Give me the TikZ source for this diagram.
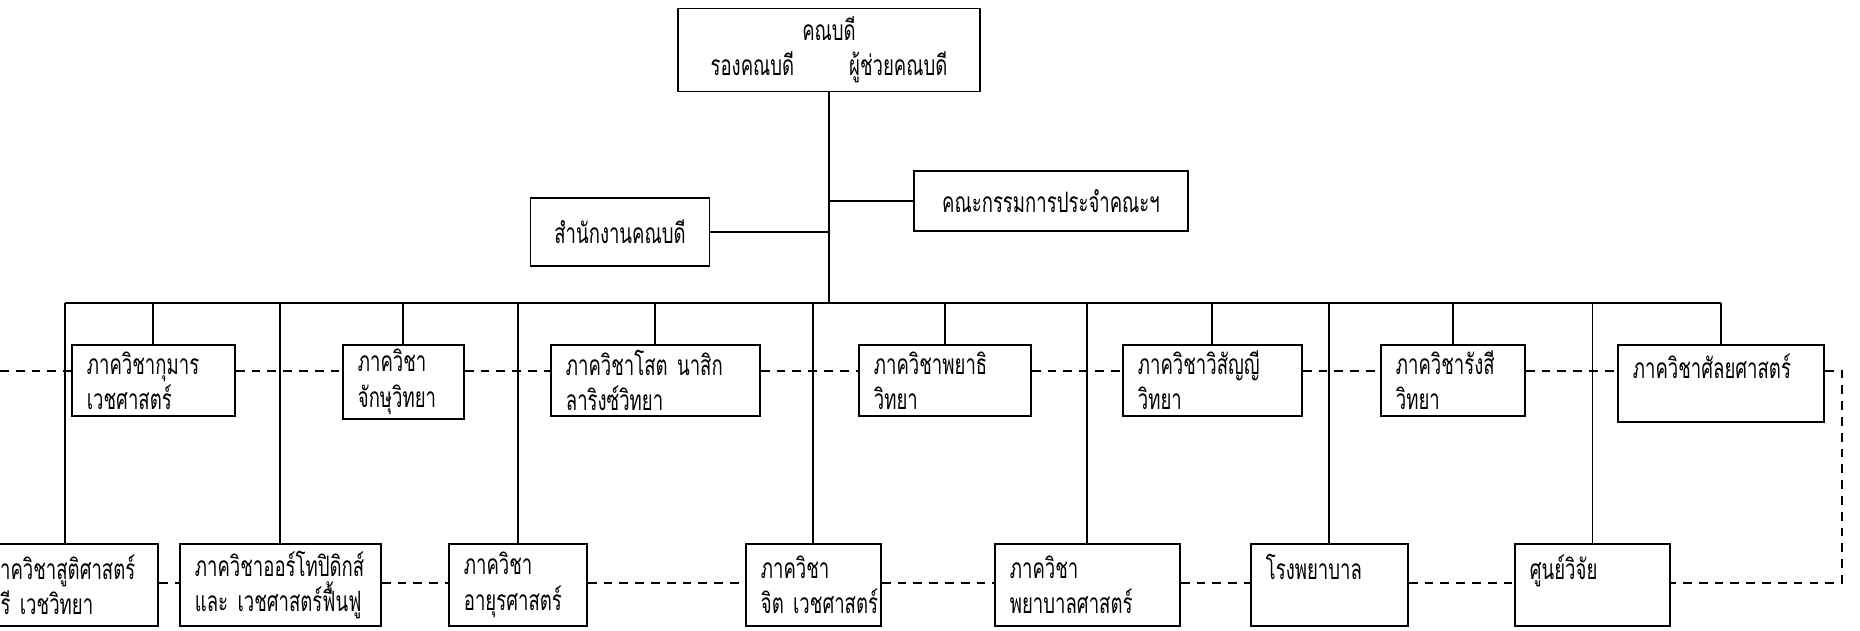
\documentclass[tikz,border=0pt]{standalone}
\usepackage{fontspec}
\newfontfamily\thaifont[Script=Thai,FakeStretch=0.66]{Loma}
\usetikzlibrary{calc}

\tikzset{
  unit/.style={draw, inner xsep=0.3cm, inner ysep=0pt, font={\thaifont\fontsize{16}{20}\selectfont}},
  dept/.style={unit, anchor=north west, align=left},
  dashline/.style={line width=0.9pt, dash pattern=on 5pt off 4pt},
}

\begin{document}
\begin{tikzpicture}[x=0.02cm, y=-0.02cm, line width=1pt]
\useasboundingbox (0,0) rectangle (1860,630);

% top of the chart
\node[unit, minimum width=6.04cm, minimum height=1.66cm, align=center] (dean) at (829,50) {คณบดี\\ รองคณบดี\hspace{1.1cm}ผู้ช่วยคณบดี};
\node[unit, minimum width=3.58cm, minimum height=1.36cm] (office) at (620,232) {สำนักงานคณบดี};
\node[unit, minimum width=5.48cm, minimum height=1.2cm] (committee) at (1051,201) {คณะกรรมการประจำคณะฯ};

% first row
\node[dept, text width=2.66cm, minimum height=1.42cm] (kumarn) at (71,344) {ภาควิชากุมาร\\ เวชศาสตร์};
\node[dept, text width=1.82cm, minimum height=1.48cm] (chaksu) at (342,344) {ภาควิชา\\ จักษุวิทยา};
\node[dept, text width=3.58cm, minimum height=1.42cm] (sot) at (550,344) {ภาควิชาโสต~นาสิก\\ ลาริงซ์วิทยา};
\node[dept, text width=2.84cm, minimum height=1.42cm] (phayathi) at (858,344) {ภาควิชาพยาธิ\\ วิทยา};
\node[dept, text width=2.98cm, minimum height=1.42cm] (wisanyi) at (1122,344) {ภาควิชาวิสัญญี\\ วิทยา};
\node[dept, text width=2.28cm, minimum height=1.42cm] (rangsi) at (1380,344) {ภาควิชารังสี\\ วิทยา};
\node[dept, text width=3.52cm, minimum height=1.54cm] (sanlaya) at (1617,344) {ภาควิชาศัลยศาสตร์\\ ~};

% second row
\node[dept, text width=3.1cm, minimum height=1.64cm] (suti) at (-28,543) {ภาควิชาสูติศาสตร์\\ นรี~เวชวิทยา};
\node[dept, text width=3.42cm, minimum height=1.64cm] (ortho) at (179,543) {ภาควิชาออร์โทปิดิกส์\\ และ~เวชศาสตร์ฟื้นฟู};
\node[dept, text width=2.16cm, minimum height=1.64cm] (ayur) at (448,543) {ภาควิชา\\ อายุรศาสตร์};
\node[dept, text width=2.1cm, minimum height=1.64cm] (chit) at (745,543) {ภาควิชา\\ จิต~เวชศาสตร์};
\node[dept, text width=3.1cm, minimum height=1.64cm] (phayaban) at (994,543) {ภาควิชา\\ พยาบาลศาสตร์};
\node[dept, text width=2.54cm, minimum height=1.64cm] (rong) at (1250,543) {โรงพยาบาล\\ ~};
\node[dept, text width=2.5cm, minimum height=1.64cm] (soon) at (1514,543) {ศูนย์วิจัย\\ ~};

% solid lines
\coordinate (bus) at (829,303);
\draw (dean.south) -- (bus);
\draw (office.east) -- (office.east -| bus);
\draw (committee.west) -- (committee.west -| bus);
\draw (suti.north |- bus) -- (sanlaya.north |- bus);
\foreach \n in {suti,kumarn,ortho,chaksu,ayur,sot,chit,phayathi,phayaban,wisanyi,rong,rangsi,soon,sanlaya} {
 \draw (\n.north) -- (\n.north |- bus);
}

% dashed lines
\coordinate (dl) at (0,371);
\coordinate (dr) at (1842,371);
\coordinate (br) at (1842,583);
\draw[dashline] (dl) -- (kumarn.west |- dl);
\foreach \a/\b in {kumarn/chaksu,chaksu/sot,sot/phayathi,phayathi/wisanyi,wisanyi/rangsi,rangsi/sanlaya} {
 \draw[dashline] (\a.east |- dl) -- (\b.west |- dl);
}
\draw[dashline] (sanlaya.east |- dl) -- (dr) -- (br) -- (soon.east |- br);
\foreach \a/\b in {suti/ortho,ortho/ayur,ayur/chit,chit/phayaban,phayaban/rong,rong/soon} {
 \draw[dashline] (\a.east |- br) -- (\b.west |- br);
}
\end{tikzpicture}
\end{document}
